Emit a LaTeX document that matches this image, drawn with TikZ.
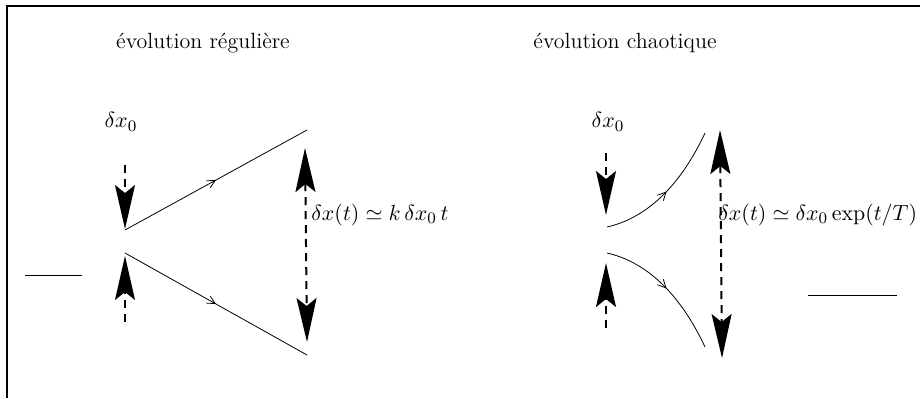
\documentclass[tikz,border=0pt]{standalone}
\usepackage{amsmath}
\usepackage{amssymb}
\usetikzlibrary{arrows.meta, positioning, decorations.markings}

\begin{document}
\begin{tikzpicture}[
    x=0.5pt, y=-0.5pt,
    font=\fontsize{11}{13}\selectfont,
    title/.style={
        inner sep=0pt
    },
    label/.style={
        inner sep=0pt,
        anchor=west
    },
    push/.style={
        draw,
        dash pattern=on 4pt off 3pt,
        line width=1pt,
        -{Stealth[length=22pt,width=10pt,inset=4pt]}
    },
    spread/.style={
        draw,
        dash pattern=on 4pt off 3pt,
        line width=1pt,
        {Stealth[length=22pt,width=10pt,inset=4pt]}-{Stealth[length=22pt,width=10pt,inset=4pt]}
    },
    traj/.style={
        draw,
        line width=0.4pt,
        postaction={decorate},
        decoration={markings,
            mark=at position 0.5 with {\arrow{Straight Barb[length=4pt,width=4pt]}}}
    },
    rule/.style={
        draw,
        line width=0.5pt
    }
]
\useasboundingbox (0,0) rectangle (920,398);

% Frame
\draw [line width=0.8pt] (7,398) -- (7,6) -- (920,6);

% Regular evolution
\node [title] (reg) at (203,43) {évolution régulière};
\node [label, anchor=center] (regdx) at (121,122) {$\delta x_0$};

\coordinate (regin) at (125,165);
\coordinate (regtip1) at (125,229);
\coordinate (regA) at (125,230);
\coordinate (regB) at (125,253);
\coordinate (regtip2) at (125,256);
\coordinate (regout) at (125,322);
\coordinate (regend1) at (307,130);
\coordinate (regend2) at (307,355);
\coordinate (regtop) at (305,148);
\coordinate (regbot) at (307,342);

\node [label] (reglaw) at (311,215) {$\delta x(t) \simeq k\,\delta x_0\,t$};
\coordinate (regl1) at (25,275);
\coordinate (regl2) at (82,275);

% Chaotic evolution
\node [title] (cha) at (625,43) {évolution chaotique};
\node [label, anchor=center] (chadx) at (608,122) {$\delta x_0$};

\coordinate (chain) at (606,153);
\coordinate (chatip1) at (606,215);
\coordinate (chaA) at (607,227);
\coordinate (chaB) at (607,253);
\coordinate (chatip2) at (606,263);
\coordinate (chaout) at (606,328);
\coordinate (chaend1) at (705,133);
\coordinate (chaend2) at (705,347);
\coordinate (chatop) at (720,130);
\coordinate (chabot) at (722,358);

\node [label] (chalaw) at (718,215) {$\delta x(t) \simeq \delta x_0 \exp(t/T)$};
\coordinate (chal1) at (808,295);
\coordinate (chal2) at (897,295);

% Connections
\path [push] (regin) -- (regtip1);
\path [push] (regout) -- (regtip2);
\path [traj] (regA) -- (regend1);
\path [traj] (regB) -- (regend2);
\path [spread] (regtop) -- (regbot);
\path [rule] (regl1) -- (regl2);

\path [push] (chain) -- (chatip1);
\path [push] (chaout) -- (chatip2);
\path [traj] (chaA) .. controls (660,215) and (690,165) .. (chaend1);
\path [traj] (chaB) .. controls (660,265) and (690,315) .. (chaend2);
\path [spread] (chatop) -- (chabot);
\path [rule] (chal1) -- (chal2);

\end{tikzpicture}
\end{document}
